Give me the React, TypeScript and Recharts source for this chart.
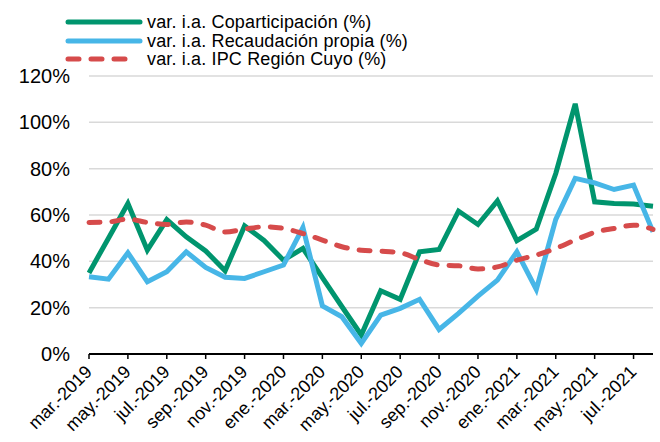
import React from "react";
import { LineChart, Line, XAxis, YAxis, CartesianGrid, Legend } from "recharts";

const months = [
  "mar.-2019", "abr.-2019", "may.-2019", "jun.-2019", "jul.-2019", "ago.-2019", "sep.-2019", "oct.-2019", "nov.-2019", "dic.-2019",
  "ene.-2020", "feb.-2020", "mar.-2020", "abr.-2020", "may.-2020", "jun.-2020", "jul.-2020", "ago.-2020", "sep.-2020", "oct.-2020",
  "nov.-2020", "dic.-2020", "ene.-2021", "feb.-2021", "mar.-2021", "abr.-2021", "may.-2021", "jun.-2021", "jul.-2021", "ago.-2021",
];

const coparticipacion = [
  35, 50, 65, 44.8, 58, 50.6, 44.5, 35.9, 55.3, 49,
  40.5, 45.6, 33, 20.5, 8.2, 27.3, 23.6, 44.1, 45.1, 61.7,
  55.9, 66.1, 48.9, 53.9, 77.9, 108, 65.7, 65, 64.7, 63.8,
];

const recaudacion = [
  33.3, 32.3, 43.7, 31.2, 35.5, 44.1, 37.4, 33.1, 32.6, 35.5,
  38.4, 54.6, 20.8, 16.1, 4.6, 16.8, 19.7, 23.6, 10.6, 17.5,
  25, 31.9, 44.1, 27.9, 58.1, 75.8, 73.9, 71, 72.9, 52.7,
];

const ipc = [
  56.8, 57, 58.2, 56.8, 55.9, 57, 55.6, 52.7, 53.9, 54.9,
  54.2, 52, 49.2, 46.3, 44.8, 44.4, 43.7, 40.8, 38.4, 38.1,
  36.7, 37.6, 40.5, 42.7, 45.6, 49.2, 52.5, 54.2, 55.6, 53.8,
];

const yTicks = [0, 20, 40, 60, 80, 100, 120];

const seriesNames = [
  "var. i.a. Coparticipación (%)",
  "var. i.a. Recaudación propia (%)",
  "var. i.a. IPC Región Cuyo (%)",
];

const GREEN = "#00956E";
const BLUE = "#47B6E7";
const RED = "#D64B4B";

const data = months.map((m, i) => ({
  m,
  cop: coparticipacion[i],
  rec: recaudacion[i],
  ipc: ipc[i],
}));

const FONT = "'Liberation Sans', Arial, sans-serif";

const XTick = (props: any) => {
  const { x, y, payload } = props;
  return (
    <g transform={`translate(${x + 4},${y + 12})`}>
      <text
        x={0}
        y={0}
        textAnchor="end"
        transform="rotate(-45)"
        fontSize={18}
        fontFamily={FONT}
        fill="#000"
      >
        {payload.value}
      </text>
    </g>
  );
};

const legendItems = [
  { name: seriesNames[0], color: GREEN, dash: undefined as string | undefined },
  { name: seriesNames[1], color: BLUE, dash: undefined as string | undefined },
  { name: seriesNames[2], color: RED, dash: "11 12" },
];

const renderLegend = () => (
  <div style={{ fontFamily: FONT, fontSize: 18, color: "#000", lineHeight: "18px" }}>
    {legendItems.map((it) => (
      <div key={it.name} style={{ display: "flex", alignItems: "center", height: 18.6, whiteSpace: "nowrap" }}>
        <svg width={82} height={10} style={{ display: "block" }}>
          <line
            x1={3}
            y1={5}
            x2={it.dash ? 70 : 75}
            y2={5}
            stroke={it.color}
            strokeWidth={5}
            strokeLinecap="round"
            strokeDasharray={it.dash}
          />
        </svg>
        <span style={{ lineHeight: "18px", letterSpacing: "0.15px" }}>{it.name}</span>
      </div>
    ))}
  </div>
);

export default function App() {
  return (
    <div style={{ position: "absolute", left: 0, top: 0, width: 660, height: 442, background: "#fff" }}>
      <LineChart
        width={660}
        height={442}
        data={data}
        margin={{ top: 76, right: 7, left: 0, bottom: 0 }}
      >
        <CartesianGrid vertical={false} stroke="#d9d9d9" strokeWidth={1.5} />
        <XAxis
          dataKey="m"
          interval={1}
          height={88}
          tick={<XTick />}
          tickSize={5}
          tickLine={{ stroke: "#000", strokeWidth: 1.5 }}
          axisLine={{ stroke: "#000", strokeWidth: 2 }}
          padding={{ left: 0, right: 0 }}
        />
        <YAxis
          width={89}
          domain={[0, 120]}
          ticks={yTicks}
          tickFormatter={(v: number) => `${v}%`}
          axisLine={false}
          tickLine={false}
          tickSize={0}
          tickMargin={19}
          tick={{ fontSize: 20, fill: "#000", fontFamily: FONT }}
        />
        <Legend
          layout="vertical"
          align="center"
          verticalAlign="middle"
          content={renderLegend}
          wrapperStyle={{ left: 65, top: 13, width: "auto", height: "auto" }}
        />
        <Line
          type="linear"
          dataKey="cop"
          name={seriesNames[0]}
          stroke={GREEN}
          strokeWidth={5}
          dot={false}
          isAnimationActive={false}
        />
        <Line
          type="linear"
          dataKey="rec"
          name={seriesNames[1]}
          stroke={BLUE}
          strokeWidth={5}
          dot={false}
          isAnimationActive={false}
        />
        <Line
          type="monotone"
          dataKey="ipc"
          name={seriesNames[2]}
          stroke={RED}
          strokeWidth={5}
          strokeDasharray="11 12"
          strokeLinecap="round"
          dot={false}
          isAnimationActive={false}
        />
      </LineChart>
    </div>
  );
}
